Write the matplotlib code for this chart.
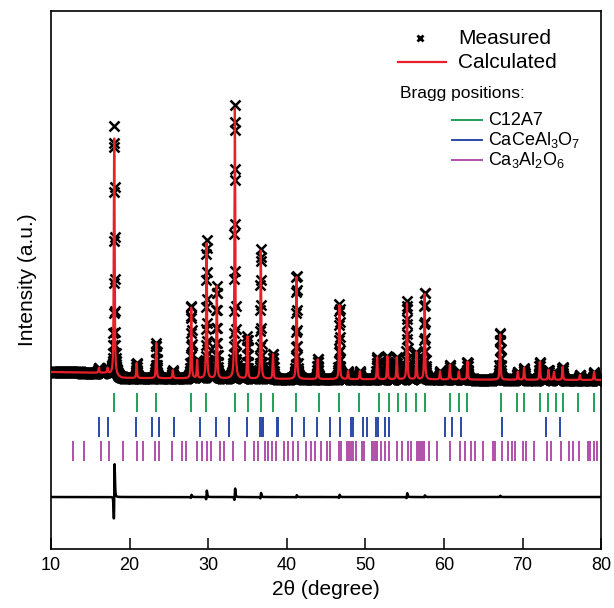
import numpy as np
import matplotlib
matplotlib.use("Agg")
import matplotlib.pyplot as plt

plt.rcParams["font.family"] = ["Liberation Sans", "DejaVu Sans"]
plt.rcParams["mathtext.fontset"] = "custom"
plt.rcParams["mathtext.rm"] = "Liberation Sans"
plt.rcParams["mathtext.default"] = "regular"

peak_pos = [16.1, 17.2, 18.05, 20.9, 23.4, 25.5, 27.85, 28.6, 29.8, 31.1,
            33.4, 35.0, 36.7, 38.25, 41.25, 43.95, 46.7, 47.8, 49.3, 51.5,
            52.8, 54.0, 55.3, 56.5, 57.55, 59.5, 60.75, 61.9, 63.0, 67.15,
            69.4, 70.2, 72.2, 73.3, 74.0, 75.1, 77.3, 79.1]
peak_obs = [5, 5, 250, 15, 35, 8, 73, 18, 138, 92,
            274, 42, 130, 25, 105, 20, 75, 8, 8, 22,
            23, 22, 78, 27, 88, 8, 15, 8, 18, 47,
            8, 12, 18, 10, 8, 13, 5, 8]
peak_calc = [5, 5, 242, 15, 35, 8, 72, 18, 135, 92,
             270, 42, 128, 25, 104, 20, 74, 8, 8, 22,
             23, 22, 76, 27, 87, 8, 15, 8, 18, 46,
             8, 12, 18, 10, 8, 13, 5, 8]
peak_obs_shift = [0, 0, 0.011, 0, 0, 0, 0.002, 0, 0.003, 0,
                  0.002, 0, 0.002, 0, 0.001, 0, 0.002, 0, 0, 0,
                  0, 0, 0.003, 0, 0.001, 0, 0, 0, 0, 0.001,
                  0, 0, 0, 0, 0, 0, 0, 0]

# background knots
bg_x = [10, 17.0, 19.0, 40, 80]
bg_y = [3, 2, -3, -4, -5]

# Bragg reflection positions
c12a7_ticks = [18.05, 20.9, 23.4, 27.8, 29.75, 33.4, 35.1, 36.7, 38.3, 41.2,
               44.1, 46.65, 49.25, 51.8, 52.95, 54.1, 55.2, 56.45, 57.6, 60.8,
               61.9, 63.0, 67.2, 69.25, 70.2, 72.25, 73.25, 74.3, 75.2, 77.1, 79.1]
cacealo_ticks = [16.1, 17.3, 20.8, 22.85, 23.7, 25.6, 28.9, 31.0, 32.6, 35.0,
                 36.6, 36.8, 37.0, 38.7, 38.9, 40.7, 42.2, 43.9, 45.5, 46.8,
                 48.15, 48.4, 49.7, 50.2, 51.4, 51.55, 52.5, 53.0, 60.2, 61.0,
                 62.2, 67.4, 73.0, 74.8]
ca3al2o6_ticks = [12.85, 14.2, 16.4, 17.4, 19.2, 20.9, 21.7, 23.3, 23.8, 25.4,
                  26.7, 27.2, 28.6, 29.2, 29.8, 30.4, 31.5, 32.0, 33.1, 34.7,
                  35.8, 36.3, 37.2, 37.6, 38.1, 38.6, 39.7, 40.1, 40.8, 41.4,
                  42.4, 43.1, 43.6, 44.3, 45.1, 45.5, 46.6, 46.9, 47.7, 47.9,
                  48.15, 48.4, 48.8, 49.6, 49.8, 50.8, 51.1, 51.3, 51.5, 52.0,
                  52.5, 52.95, 54.0, 54.65, 55.4, 55.8, 56.6, 56.8, 57.0, 57.2,
                  57.5, 58.1, 59.1, 60.8, 62.0, 62.7, 63.5, 63.9, 65.0, 66.2,
                  66.45, 67.4, 68.2, 68.7, 69.0, 70.0, 70.5, 71.5, 73.1, 73.6,
                  74.9, 75.9, 76.4, 77.2, 78.3, 78.6, 79.1, 79.5]

FWHM = 0.13
TICK_ROWS = [(-18, -37, "#1fa055"), (-42, -62, "#2a4aa6"), (-66, -86, "#b150aa")]
DIFF_OFFSET = -122


def profile(x, positions, heights):
    y = np.interp(x, bg_x, bg_y)
    for p, h in zip(positions, heights):
        u = (x - p) / (FWHM / 2)
        lor = 1 / (1 + u ** 2)
        gau = np.exp(-np.log(2) * u ** 2)
        y = y + h * (0.6 * lor + 0.4 * gau)
    return y


def main():
    x = np.arange(10, 80.001, 0.02)
    obs_pos = np.array(peak_pos) + np.array(peak_obs_shift)
    y_obs = profile(x, obs_pos, peak_obs)
    y_calc = profile(x, peak_pos, peak_calc)
    y_diff = y_obs - y_calc + DIFF_OFFSET

    fig = plt.figure(figsize=(6.14, 6.08), dpi=100)
    ax = fig.add_axes([0.083, 0.097, 0.896, 0.885])

    ax.plot(x, y_obs, "x", color="black", ms=7, mew=1.8, zorder=2)
    ax.plot(x, y_calc, color="#e8202a", lw=1.6, zorder=3)

    for ticks, (top, bottom, color) in zip(
            [c12a7_ticks, cacealo_ticks, ca3al2o6_ticks], TICK_ROWS):
        ax.vlines(ticks, bottom, top, colors=color, lw=1.4)

    ax.plot(x, y_diff, color="black", lw=1.8)

    ax.set_xlim(10, 80)
    ax.set_ylim(-174, 364)
    ax.set_xticks(range(10, 81, 10))
    ax.set_yticks([])
    ax.tick_params(axis="x", direction="in", length=8, width=1.1,
                   labelsize=13, pad=6)
    for s in ax.spines.values():
        s.set_linewidth(1.2)
    ax.set_xlabel("2θ (degree)", fontsize=15, labelpad=4)
    ax.set_ylabel("Intensity (a.u.)", fontsize=15, labelpad=10)

    # legend
    tr = ax.transAxes
    ax.plot([0.671], [0.950], "x", color="black", ms=5, mew=2, transform=tr)
    ax.text(0.740, 0.948, "Measured", fontsize=15, va="center", transform=tr)
    ax.plot([0.631, 0.718], [0.905, 0.905], color="#e8202a", lw=1.6,
            transform=tr)
    ax.text(0.740, 0.905, "Calculated", fontsize=15, va="center", transform=tr)
    ax.text(0.635, 0.847, "Bragg positions:", fontsize=12.5, va="center",
            transform=tr)
    labels = ["C12A7", "CaCeAl$_3$O$_7$", "Ca$_3$Al$_2$O$_6$"]
    for i, (lab, (_, _, color)) in enumerate(zip(labels, TICK_ROWS)):
        yy = 0.797 - i * 0.037
        ax.plot([0.729, 0.784], [yy, yy], color=color, lw=1.4, transform=tr)
        ax.text(0.795, yy, lab, fontsize=13, va="center", transform=tr)

    fig.savefig("out.png", dpi=100)
    plt.close(fig)


if __name__ == "__main__":
    main()
